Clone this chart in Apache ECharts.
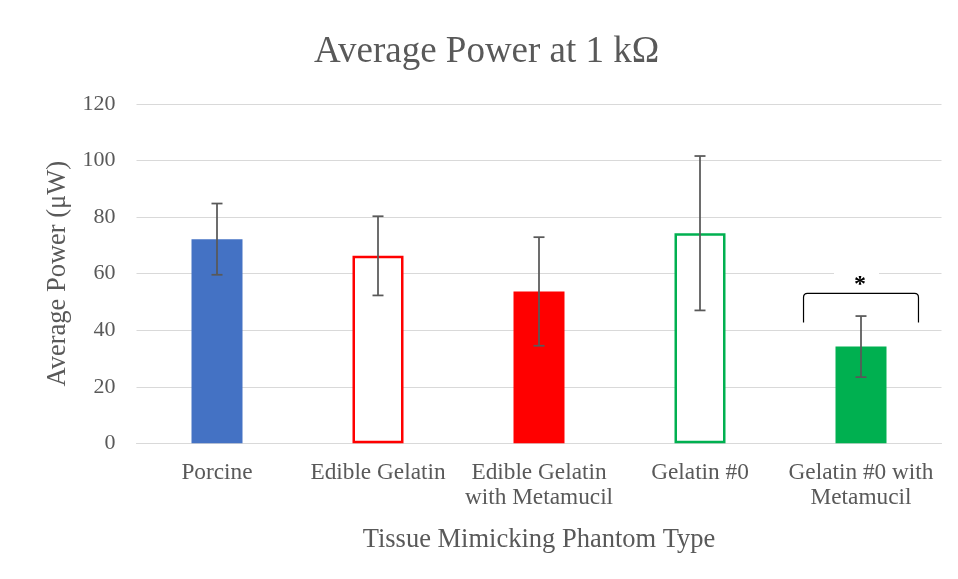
<!DOCTYPE html>
<html>
<head>
<meta charset="utf-8">
<script src="https://cdn.jsdelivr.net/npm/echarts@6/dist/echarts.min.js"></script>
<style>
  html, body { margin: 0; padding: 0; background: #ffffff; }
  #chart { width: 958px; height: 579px; }
</style>
</head>
<body>
<div id="chart"></div>
<script>
// Phantom types and measured average power (mean ± standard deviation)
const categories = ['Porcine', 'Edible Gelatin', 'Edible Gelatin\nwith Metamucil', 'Gelatin #0', 'Gelatin #0 with\nMetamucil'];
const meanPower = [72.2, 66.3, 53.7, 74.3, 34.2];
const stdDev = [12.6, 14.0, 19.2, 27.3, 10.8];
const yTicks = [0, 20, 40, 60, 80, 100, 120];

// Significance bracket over the last bar: [category index, top value, end value]
const bracket = [[4, 53.0, 42.7]];
const starLevel = [[4, 56.0]];

const fontFamily = '"Liberation Serif", "Times New Roman", serif';
const textColor = '#595959';

const barStyles = [
  { color: '#4472C4' },
  { color: '#ffffff', borderColor: '#FF0000', borderWidth: 2.5 },
  { color: '#FF0000' },
  { color: '#ffffff', borderColor: '#00B050', borderWidth: 2.5 },
  { color: '#00B050' }
];

const chart = echarts.init(document.getElementById('chart'), null, { renderer: 'canvas' });

const option = {
  animation: false,
  backgroundColor: '#ffffff',
  title: {
    text: 'Average Power at 1 kΩ',
    left: 314,
    top: 34,
    padding: 0,
    textStyle: { fontFamily, fontSize: 37, fontWeight: 'normal', color: textColor }
  },
  grid: { left: 136.5, right: 16.5, top: 104, bottom: 135.7, containLabel: false },
  xAxis: {
    type: 'category',
    data: categories,
    name: 'Tissue Mimicking Phantom Type',
    nameLocation: 'middle',
    nameGap: 83,
    nameTextStyle: { fontFamily, fontSize: 26.5, color: textColor },
    axisLine: { lineStyle: { color: '#D9D9D9', width: 1 } },
    axisTick: { show: false },
    axisLabel: { fontFamily, fontSize: 23.3, color: textColor, lineHeight: 25, margin: 17.5, interval: 0 }
  },
  yAxis: {
    type: 'value',
    min: yTicks[0],
    max: yTicks[yTicks.length - 1],
    interval: 20,
    name: 'Average Power (μW)',
    nameLocation: 'middle',
    nameGap: 61,
    nameTextStyle: { fontFamily, fontSize: 26.5, color: textColor },
    axisLine: { show: false },
    axisTick: { show: false },
    splitLine: { lineStyle: { color: '#D9D9D9', width: 1 } },
    axisLabel: { fontFamily, fontSize: 22, color: textColor, margin: 21 }
  },
  series: [
    {
      type: 'bar',
      barWidth: 51,
      data: meanPower.map((v, i) => ({ value: v, itemStyle: barStyles[i] })),
      z: 2
    },
    {
      // error bars with caps
      type: 'custom',
      data: meanPower.map((v, i) => [i, v - stdDev[i], v + stdDev[i]]),
      z: 3,
      renderItem: function (params, api) {
        const lo = api.coord([api.value(0), api.value(1)]);
        const hi = api.coord([api.value(0), api.value(2)]);
        const cap = 5.5;
        const style = { stroke: '#595959', lineWidth: 1.75 };
        return {
          type: 'group',
          children: [
            { type: 'line', shape: { x1: hi[0], y1: hi[1], x2: lo[0], y2: lo[1] }, style },
            { type: 'line', shape: { x1: hi[0] - cap, y1: hi[1], x2: hi[0] + cap, y2: hi[1] }, style },
            { type: 'line', shape: { x1: lo[0] - cap, y1: lo[1], x2: lo[0] + cap, y2: lo[1] }, style }
          ]
        };
      }
    },
    {
      // significance bracket
      type: 'custom',
      data: bracket,
      z: 4,
      renderItem: function (params, api) {
        const top = api.coord([api.value(0), api.value(1)]);
        const end = api.coord([api.value(0), api.value(2)]);
        const half = api.size([1, 0])[0] * 0.357;
        const xl = top[0] - half, xr = top[0] + half;
        const yt = top[1], ye = end[1];
        const r = 4;
        const d = 'M' + xl + ' ' + ye + ' L' + xl + ' ' + (yt + r) +
          ' Q' + xl + ' ' + yt + ' ' + (xl + r) + ' ' + yt +
          ' L' + (xr - r) + ' ' + yt +
          ' Q' + xr + ' ' + yt + ' ' + xr + ' ' + (yt + r) +
          ' L' + xr + ' ' + ye;
        return {
          type: 'path',
          shape: { pathData: d },
          style: { stroke: '#000000', lineWidth: 1.2, fill: null }
        };
      }
    },
    {
      // significance marker on a small white label box
      type: 'custom',
      data: starLevel,
      z: 5,
      renderItem: function (params, api) {
        const p = api.coord([api.value(0), api.value(1)]);
        return {
          type: 'group',
          children: [
            {
              type: 'rect',
              shape: { x: p[0] - 27, y: p[1] - 17, width: 45, height: 15 },
              style: { fill: '#ffffff' }
            },
            {
              type: 'text',
              x: p[0] - 1,
              y: p[1],
              style: {
                text: '*',
                fontFamily,
                fontSize: 24,
                fontWeight: 'bold',
                fill: '#000000',
                align: 'center',
                verticalAlign: 'middle'
              }
            }
          ]
        };
      }
    }
  ]
};

chart.setOption(option);
</script>
</body>
</html>
